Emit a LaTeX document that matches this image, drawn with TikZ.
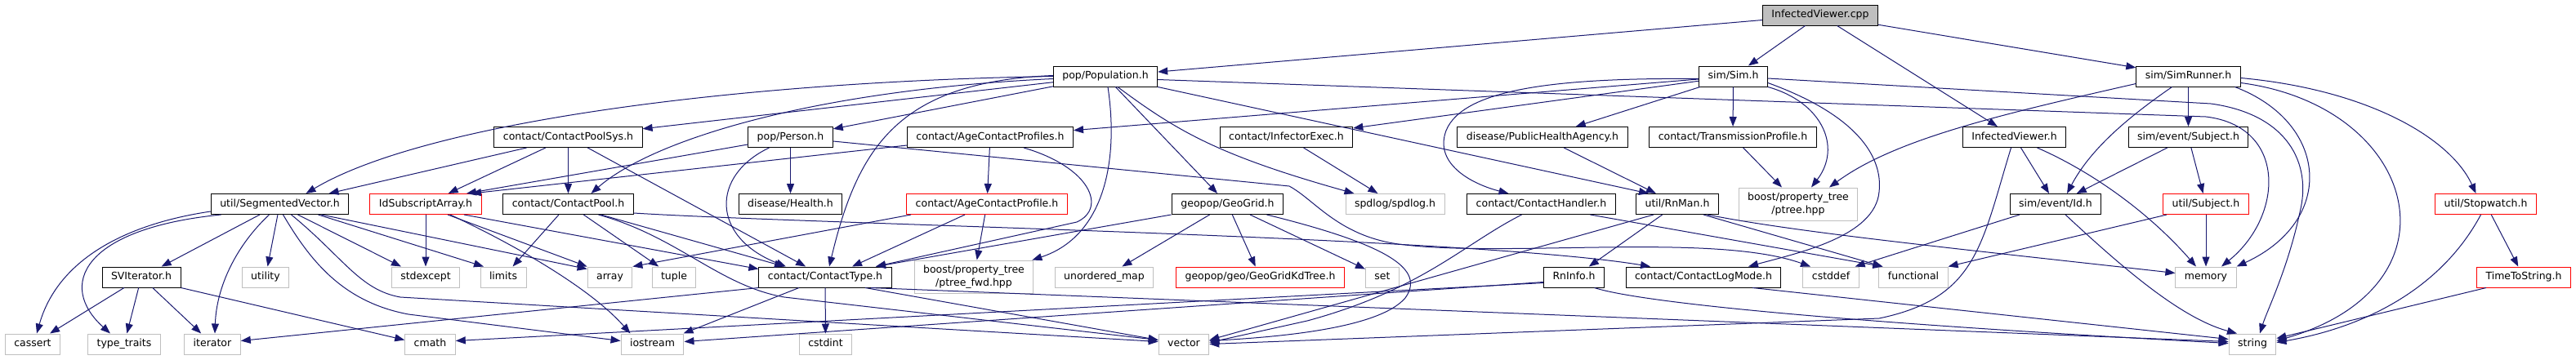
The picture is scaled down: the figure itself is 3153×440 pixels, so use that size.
\documentclass[tikz,border=0pt]{standalone}
\usepackage{fontspec}
\setmainfont{DejaVu Sans}
\usepackage{tikz}
\usetikzlibrary{positioning}
\usetikzlibrary{arrows.meta}
\definecolor{edgeblue}{RGB}{25,25,112}
\definecolor{sysgray}{RGB}{191,191,191}
\tikzset{
  box/.style = {rectangle, line width=1pt, inner xsep=11pt, inner ysep=0pt,
    minimum height=25pt, text height=9.5pt, text depth=3pt,
    font=\fontsize{12.5}{15.5}\selectfont},
  hdr/.style = {box, draw=black},
  sys/.style = {box, draw=sysgray},
  miss/.style = {box, draw=red},
  root/.style = {box, draw=black, fill=sysgray},
  twoline/.style = {align=center, minimum height=40pt, text height=, text depth=},
  dep/.style = {draw=edgeblue, line width=1pt, -{Triangle[length=12pt,width=9pt]}},
}

\begin{document}
\begin{tikzpicture}[x=1pt, y=-1pt]
  \useasboundingbox (0,0) rectangle (3153,440);
  % rows of files
  \node (Cpp) [root] at (2228,18.5) {InfectedViewer.cpp};

  \node (Pop) [hdr] at (1353,93.5) {pop/Population.h};
  \node (Sim) [hdr] at (2121.5,93.5) {sim/Sim.h};
  \node (Runner) [hdr] at (2678.5,93.5) {sim/SimRunner.h};

  \node (PoolSys) [hdr] at (695.5,168) {contact/ContactPoolSys.h};
  \node (Person) [hdr] at (967.5,168) {pop/Person.h};
  \node (AgeProfs) [hdr] at (1212,168) {contact/AgeContactProfiles.h};
  \node (Infector) [hdr] at (1574.5,168) {contact/InfectorExec.h};
  \node (Pha) [hdr] at (1888,168) {disease/PublicHealthAgency.h};
  \node (Transm) [hdr] at (2121,168) {contact/TransmissionProfile.h};
  \node (ViewerH) [hdr] at (2465.5,168) {InfectedViewer.h};
  \node (EvSubject) [hdr] at (2678.5,168) {sim/event/Subject.h};

  \node (SegVec) [hdr] at (342.5,250) {util/SegmentedVector.h};
  \node (IdSub) [miss] at (521,250) {IdSubscriptArray.h};
  \node (Pool) [hdr] at (695.5,250) {contact/ContactPool.h};
  \node (Health) [hdr] at (967.5,250) {disease/Health.h};
  \node (AgeProf) [miss] at (1208,250) {contact/AgeContactProfile.h};
  \node (GeoGrid) [hdr] at (1502.5,250) {geopop/GeoGrid.h};
  \node (Spdlog) [sys] at (1707.5,250) {spdlog/spdlog.h};
  \node (Handler) [hdr] at (1886.5,250) {contact/ContactHandler.h};
  \node (RnMan) [hdr] at (2053,250) {util/RnMan.h};
  \node (Ptree) [sys, twoline] at (2201,250) {boost/property\_tree\\/ptree.hpp};
  \node (EvId) [hdr] at (2516,250) {sim/event/Id.h};
  \node (USubject) [miss] at (2700,250) {util/Subject.h};
  \node (Stopwatch) [miss] at (3042.5,250) {util/Stopwatch.h};

  \node (SVIter) [hdr] at (173,339.5) {SVIterator.h};
  \node (Utility) [sys] at (325,339.5) {utility};
  \node (Stdexcept) [sys] at (521,339.5) {stdexcept};
  \node (Limits) [sys] at (616,339.5) {limits};
  \node (Array) [sys] at (746.5,339.5) {array};
  \node (Tuple) [sys] at (825,339.5) {tuple};
  \node (CType) [hdr] at (1010,339.5) {contact/ContactType.h};
  \node (PtreeFwd) [sys, twoline] at (1192,339) {boost/property\_tree\\/ptree\_fwd.hpp};
  \node (UMap) [sys] at (1351.5,339.5) {unordered\_map};
  \node (KdTree) [miss] at (1542.5,339.5) {geopop/geo/GeoGridKdTree.h};
  \node (Set) [sys] at (1692,339.5) {set};
  \node (RnInfo) [hdr] at (1926.5,339.5) {RnInfo.h};
  \node (LogMode) [hdr] at (2085,339.5) {contact/ContactLogMode.h};
  \node (Cstddef) [sys] at (2241,339.5) {cstddef};
  \node (Functional) [sys] at (2342,339.5) {functional};
  \node (Memory) [sys] at (2700,339.5) {memory};
  \node (TimeStr) [miss] at (3089,339.5) {TimeToString.h};

  \node (Cassert) [sys] at (40,421.5) {cassert};
  \node (TypeTraits) [sys] at (152,421.5) {type\_traits};
  \node (Iterator) [sys] at (260,421.5) {iterator};
  \node (Cmath) [sys] at (526.5,421.5) {cmath};
  \node (Iostream) [sys] at (798.5,421.5) {iostream};
  \node (Cstdint) [sys] at (1010.5,421.5) {cstdint};
  \node (Vector) [sys] at (1449,421.5) {vector};
  \node (String) [sys] at (2757,421.5) {string};

  % includes
  \path (Cpp) edge[dep] (Pop);
  \path (Cpp) edge[dep] (Sim);
  \path (Cpp) edge[dep] (ViewerH);
  \path (Cpp) edge[dep] (Runner);

  \draw[dep] (Pop.west) .. controls (900,100) and (520,150) .. ([xshift=32pt]SegVec.north);
  \path (Pop) edge[dep] (PoolSys);
  \path (Pop) edge[dep] (Person);
  \draw[dep] ([yshift=-3pt]Pop.west) .. controls (1000,110) and (800,170) .. ([xshift=28pt]Pool.north);
  \draw[dep] ([yshift=1pt]Pop.west) .. controls (1100,100) and (1050,180) .. ([xshift=5pt]CType.north);
  \draw[dep] ([xshift=3pt]Pop.south) .. controls (1370,200) and (1350,290) .. ([xshift=-2pt]PtreeFwd.north east);
  \path (Pop) edge[dep] (GeoGrid);
  \draw[dep] ([xshift=15pt]Pop.south) .. controls (1440,160) and (1490,190) .. ([xshift=-50pt]Spdlog.north);
  \draw[dep] ([yshift=-4pt]Pop.east) -- (2700,143) .. controls (2800,155) and (2795,265) .. ([xshift=19pt]Memory.north);
  \path (Pop.south east) edge[dep] ([xshift=-35pt]RnMan.north);

  \path (Sim) edge[dep] (AgeProfs);
  \path (Sim) edge[dep] (Infector);
  \draw[dep] ([yshift=-3pt]Sim.west) .. controls (1900,95) and (1790,110) .. (1770,160)
    .. controls (1755,200) and (1800,225) .. ([xshift=-40pt]Handler.north);
  \path (Sim) edge[dep] (Pha);
  \path (Sim) edge[dep] (Transm);
  \draw[dep] (Sim.south east) .. controls (2230,125) and (2255,180) .. ([xshift=16pt]Ptree.north);
  \draw[dep] ([yshift=-8pt]Sim.east) .. controls (2270,140) and (2305,190) .. (2300,235)
    .. controls (2295,290) and (2200,310) .. ([xshift=55pt]LogMode.north);
  \draw[dep] ([yshift=-2.5pt]Sim.east) -- (2706,127) .. controls (2800,140) and (2830,200) .. (2815,260)
    .. controls (2800,330) and (2775,380) .. ([xshift=9pt]String.north);

  \draw[dep] ([yshift=-9pt]Runner.west) .. controls (2450,140) and (2320,170) .. ([xshift=38pt]Ptree.north);
  \draw[dep] ([xshift=-20pt]Runner.south) .. controls (2610,140) and (2560,180) .. ([xshift=14pt]EvId.north);
  \path (Runner) edge[dep] (EvSubject);
  \draw[dep] ([xshift=57pt]Runner.south) .. controls (2850,150) and (2860,270) .. (Memory.north east);
  \draw[dep] ([yshift=-8pt]Runner.east) .. controls (2960,130) and (3020,350) .. ([yshift=4pt]String.east);
  \draw[dep] ([yshift=-2pt]Runner.east) .. controls (2900,110) and (3000,170) .. ([xshift=-12pt]Stopwatch.north);

  \path (EvSubject) edge[dep] (EvId);
  \path (EvSubject) edge[dep] (USubject);

  \path ([xshift=-51pt]PoolSys.south) edge[dep] ([xshift=60pt]SegVec.north);
  \path (PoolSys) edge[dep] (IdSub);
  \path (PoolSys) edge[dep] (Pool);
  \path (PoolSys) edge[dep] (CType);

  \path ([yshift=-9pt]Person.west) edge[dep] ([xshift=50pt]IdSub.north);
  \path (Person) edge[dep] (Health);
  \draw[dep] ([xshift=-26pt]Person.south) .. controls (870,215) and (870,290) .. ([xshift=-48pt]CType.north);
  \draw[dep] ([yshift=-5pt]Person.east) -- (1578,228) .. controls (1610,245) and (1640,292) .. (1720,300)
    .. controls (1850,315) and (2100,285) .. ([xshift=-25pt]Cstddef.north);

  \path ([yshift=-10pt]AgeProfs.west) edge[dep] ([xshift=56pt]IdSub.north);
  \path (AgeProfs) edge[dep] (AgeProf);
  \draw[dep] ([xshift=41pt]AgeProfs.south) .. controls (1335,205) and (1355,255) .. (1318,272)
    -- ([xshift=62pt]CType.north);

  \path (Infector) edge[dep] (Spdlog);
  \path (Pha) edge[dep] (RnMan);
  \path (Transm) edge[dep] (Ptree);

  \path (ViewerH) edge[dep] (EvId);
  \draw[dep] ([xshift=28pt]ViewerH.south) .. controls (2560,210) and (2630,260) .. ([xshift=-12pt]Memory.north);
  \draw[dep] ([xshift=-4pt]ViewerH.south) .. controls (2425,300) and (2420,365) .. (2300,390) -- (Vector.east);

  \path (SegVec) edge[dep] (SVIter);
  \path (SegVec) edge[dep] (Utility);
  \draw[dep] ([yshift=-9pt]SegVec.west) .. controls (150,275) and (70,320) .. ([xshift=5pt]Cassert.north);
  \draw[dep] ([xshift=-72pt]SegVec.south) .. controls (100,280) and (70,350) .. ([xshift=-17pt]TypeTraits.north);
  \draw[dep] ([xshift=-13pt]SegVec.south) .. controls (290,300) and (265,350) .. ([xshift=3pt]Iterator.north);
  \path ([xshift=22pt]SegVec.south) edge[dep] ([xshift=-30pt]Stdexcept.north);
  \path ([xshift=47pt]SegVec.south) edge[dep] ([xshift=-24pt]Limits.north);
  \path ([xshift=51pt]SegVec.south) edge[dep] ([yshift=-3pt]Array.north west);
  \draw[dep] ([xshift=14pt]SegVec.south) .. controls (420,315) and (440,355) .. (490,364) -- ([yshift=3pt]Vector.west);
  \draw[dep] ([xshift=4pt]SegVec.south) .. controls (380,320) and (420,370) .. (500,385) -- ([yshift=4pt]Iostream.west);

  \path (SVIter) edge[dep] (Cassert);
  \path (SVIter) edge[dep] (TypeTraits);
  \path (SVIter) edge[dep] (Iterator);
  \path (SVIter.south east) edge[dep] ([yshift=5pt]Cmath.west);

  \path (IdSub) edge[dep] (Stdexcept);
  \path ([xshift=27pt]IdSub.south) edge[dep] (Array.north west);
  \draw[dep] ([xshift=30pt]IdSub.south) .. controls (620,295) and (720,350) .. ([xshift=-27pt]Iostream.north);
  \path ([xshift=47pt]IdSub.south) edge[dep] ([yshift=-3pt]CType.north west);

  \path (Pool) edge[dep] (Limits);
  \path (Pool) edge[dep] (Tuple);
  \path ([xshift=40pt]Pool.south) edge[dep] ([xshift=-50pt]CType.north);
  \draw[dep] ([xshift=37pt]Pool.south) .. controls (830,290) and (880,350) .. (960,364) -- ([yshift=5pt]Vector.west);
  \draw[dep] ([yshift=-11pt]Pool.east) .. controls (1000,275) and (1800,290) .. ([xshift=-65pt]LogMode.north);

  \path (CType.south west) edge[dep] ([yshift=4pt]Iterator.east);
  \path ([xshift=-32pt]CType.south) edge[dep] ([xshift=38pt]Iostream.north);
  \path (CType) edge[dep] (Cstdint);
  \path ([xshift=49pt]CType.south) edge[dep] ([yshift=5pt]Vector.west);
  \path ([xshift=56pt]CType.south) edge[dep] ([yshift=3pt]String.west);

  \path ([xshift=-27pt]AgeProf.south) edge[dep] ([xshift=33pt]CType.north);
  \path (AgeProf) edge[dep] (PtreeFwd);
  \path ([xshift=-93pt]AgeProf.south) edge[dep] (Array.north east);

  \path ([xshift=-69pt]GeoGrid.south) edge[dep] ([xshift=62pt]CType.north);
  \path (GeoGrid) edge[dep] (UMap);
  \path (GeoGrid) edge[dep] (KdTree);
  \path (GeoGrid) edge[dep] (Set);
  \draw[dep] ([xshift=48pt]GeoGrid.south) .. controls (1700,300) and (1745,330) .. (1720,365)
    .. controls (1690,400) and (1580,412) .. ([yshift=4pt]Vector.east);

  \path ([xshift=60pt]Handler.south) edge[dep] ([xshift=5pt]Functional.north west);
  \draw[dep] ([xshift=-24pt]Handler.south) .. controls (1790,300) and (1740,355) .. (1600,393) -- ([yshift=2pt]Vector.east);

  \path (RnMan) edge[dep] (RnInfo);
  \path ([xshift=32pt]RnMan.south) edge[dep] ([xshift=5pt]Functional.north west);
  \draw[dep] ([xshift=37pt]RnMan.south) .. controls (2200,285) and (2400,305) .. ([yshift=5pt]Memory.west);
  \path ([xshift=-29pt]RnMan.south) edge[dep] ([yshift=5pt]Vector.east);

  \path ([yshift=-6pt]RnInfo.west) edge[dep] ([yshift=3pt]Iostream.east);
  \path ([yshift=-7pt]RnInfo.west) edge[dep] ([yshift=4pt]Cmath.east);
  \draw[dep] ([xshift=25pt]RnInfo.south) .. controls (2000,368) and (2200,392) .. ([yshift=1pt]String.west);

  \path ([xshift=60pt]LogMode.south) edge[dep] ([yshift=6pt]String.west);

  \path ([xshift=-44pt]EvId.south) edge[dep] ([xshift=-5pt]Cstddef.north east);
  \draw[dep] ([xshift=12pt]EvId.south) .. controls (2600,330) and (2670,390) .. ([xshift=-19pt]String.north);

  \path ([xshift=-48pt]USubject.south) edge[dep] (Functional.north east);
  \path (USubject) edge[dep] (Memory);

  \path (Stopwatch) edge[dep] (TimeStr);
  \draw[dep] ([xshift=-6pt]Stopwatch.south) .. controls (2990,350) and (2900,400) .. ([yshift=2pt]String.east);
  \path ([xshift=-46pt]TimeStr.south) edge[dep] ([yshift=7pt]String.east);
\end{tikzpicture}
\end{document}
